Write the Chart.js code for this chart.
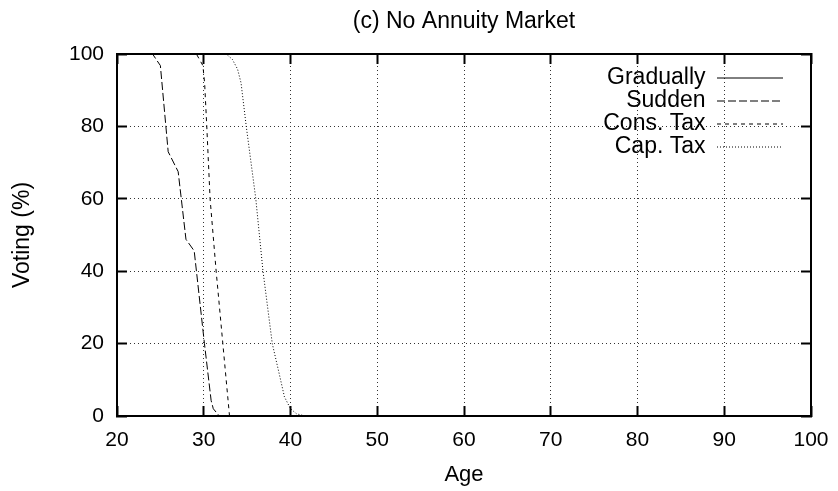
<!DOCTYPE html>
<html>
<head>
<meta charset="utf-8">
<script src="https://cdn.jsdelivr.net/npm/chart.js@4.4.1/dist/chart.umd.min.js"></script>
<style>
  html, body { margin: 0; padding: 0; background: #fff; }
  #wrap { width: 838px; height: 491px; }
</style>
</head>
<body>
<div id="wrap"><canvas id="myChart"></canvas></div>
<script>
// values (age, voting %)
const ageGradually = [20, 100];
const gradually = [0, 0];

const ageSudden = [20, 24.1, 25, 25.9, 27.05, 27.95, 28.9, 30.08, 30.85, 31.1, 31.8, 100];
const sudden = [100, 100, 96.8, 73, 67.5, 48.8, 45.6, 20, 4.3, 2, 0, 0];

const ageConsTax = [20, 28.6, 29.2, 29.9, 30.1, 30.35, 30.73, 31.43, 32.2, 32.97, 100];
const consTax = [100, 100, 99.8, 96.8, 92, 80, 60, 40, 20, 0, 0];

const ageCapTax = [20, 32.6, 33.3, 33.9, 34.3, 34.9, 36, 36.83, 37.9, 38.6, 39.3, 40, 40.7, 41.7, 100];
const capTax = [100, 100, 98.5, 95.8, 92, 80, 60, 40, 20, 12.7, 5.3, 2, 0.6, 0, 0];

const xTicks = [20, 30, 40, 50, 60, 70, 80, 90, 100];
const yTicks = [0, 20, 40, 60, 80, 100];

const FONT = "'Liberation Sans', Arial, sans-serif";

function toPoints(xs, ys) {
  return xs.map(function (x, i) { return { x: x, y: ys[i] }; });
}

function makeSet(label, xs, ys, dash) {
  return {
    label: label,
    data: toPoints(xs, ys),
    borderColor: '#000',
    backgroundColor: '#000',
    borderWidth: 1,
    borderDash: dash,
    pointRadius: 0,
    tension: 0,
    fill: false
  };
}

// legend goes in the top right corner of the plot, gnuplot style
const placeLegend = {
  id: 'placeLegend',
  afterLayout: function (chart) {
    var lg = chart.legend, ca = chart.chartArea;
    lg.left = ca.right - 28 - lg.width;
    lg.right = lg.left + lg.width;
    lg.top = ca.top + 12.5;
    lg.bottom = lg.top + lg.height;
  }
};

// short solid tick marks pointing into the plot (negative tick length)
function inTicks(show) {
  return {
    display: true,
    drawOnChartArea: show,
    drawTicks: true,
    tickLength: -10,
    tickColor: '#000',
    tickWidth: 2,
    color: '#333',
    lineWidth: 1
  };
}

function fixSize(prop, size) {
  return function (s) {
    s[prop] = size;
    s.paddingLeft = 0; s.paddingRight = 0; s.paddingTop = 0; s.paddingBottom = 0;
  };
}

var chx = document.getElementById('myChart');
var chart = new Chart(chx, {
  type: 'line',
  data: {
    datasets: [
      makeSet('Gradually', ageGradually, gradually, []),
      makeSet('Sudden', ageSudden, sudden, [8, 3]),
      makeSet('Cons. Tax', ageConsTax, consTax, [4, 4]),
      makeSet('Cap. Tax', ageCapTax, capTax, [1, 2])
    ]
  },
  options: {
    responsive: true,
    maintainAspectRatio: false,
    animation: false,
    events: [],
    layout: { padding: 0 },
    plugins: {
      title: { display: false },
      tooltip: { enabled: false },
      legend: {
        display: true,
        position: 'chartArea',
        align: 'start',
        rtl: true,
        labels: {
          usePointStyle: true,
          pointStyle: 'line',
          pointStyleWidth: 66,
          padding: 0,
          color: '#000',
          font: { family: FONT, size: 23 },
          generateLabels: function (c) {
            var items = Chart.defaults.plugins.legend.labels.generateLabels(c);
            items.forEach(function (it) {
              var ds = c.data.datasets[it.datasetIndex];
              it.lineDash = ds.borderDash;
              it.lineWidth = 1;
              it.strokeStyle = '#000';
              it.pointStyle = 'line';
            });
            return items;
          }
        }
      }
    },
    scales: {
      x: {
        type: 'linear',
        position: 'bottom',
        min: 20,
        max: 100,
        afterBuildTicks: function (s) { s.ticks = xTicks.map(function (v) { return { value: v }; }); },
        afterFit: fixSize('height', 75),
        ticks: { color: '#000', padding: 22, maxRotation: 0, font: { family: FONT, size: 21 } },
        grid: inTicks(true),
        border: { display: true, color: '#000', width: 2, dash: [1, 3] },
        title: { display: true, text: 'Age', color: '#000', padding: { bottom: 3 }, font: { family: FONT, size: 22 } }
      },
      xTop: {
        type: 'linear',
        position: 'top',
        min: 20,
        max: 100,
        afterBuildTicks: function (s) { s.ticks = xTicks.map(function (v) { return { value: v }; }); },
        afterFit: fixSize('height', 54),
        ticks: { display: false },
        grid: inTicks(false),
        border: { display: true, color: '#000', width: 2 },
        title: { display: true, text: '(c) No Annuity Market', color: '#000', padding: { top: 8 }, font: { family: FONT, size: 23 } }
      },
      y: {
        type: 'linear',
        position: 'left',
        min: 0,
        max: 100,
        afterBuildTicks: function (s) { s.ticks = yTicks.map(function (v) { return { value: v }; }); },
        afterFit: fixSize('width', 117),
        ticks: { color: '#000', padding: 23, font: { family: FONT, size: 21 } },
        grid: inTicks(true),
        border: { display: true, color: '#000', width: 2, dash: [1, 3] },
        title: { display: true, text: 'Voting (%)', color: '#000', padding: { top: 9 }, font: { family: FONT, size: 23 } }
      },
      yRight: {
        type: 'linear',
        position: 'right',
        min: 0,
        max: 100,
        afterBuildTicks: function (s) { s.ticks = yTicks.map(function (v) { return { value: v }; }); },
        afterFit: fixSize('width', 27),
        ticks: { display: false },
        grid: inTicks(false),
        border: { display: true, color: '#000', width: 2 }
      }
    }
  },
  plugins: [placeLegend]
});
</script>
</body>
</html>
